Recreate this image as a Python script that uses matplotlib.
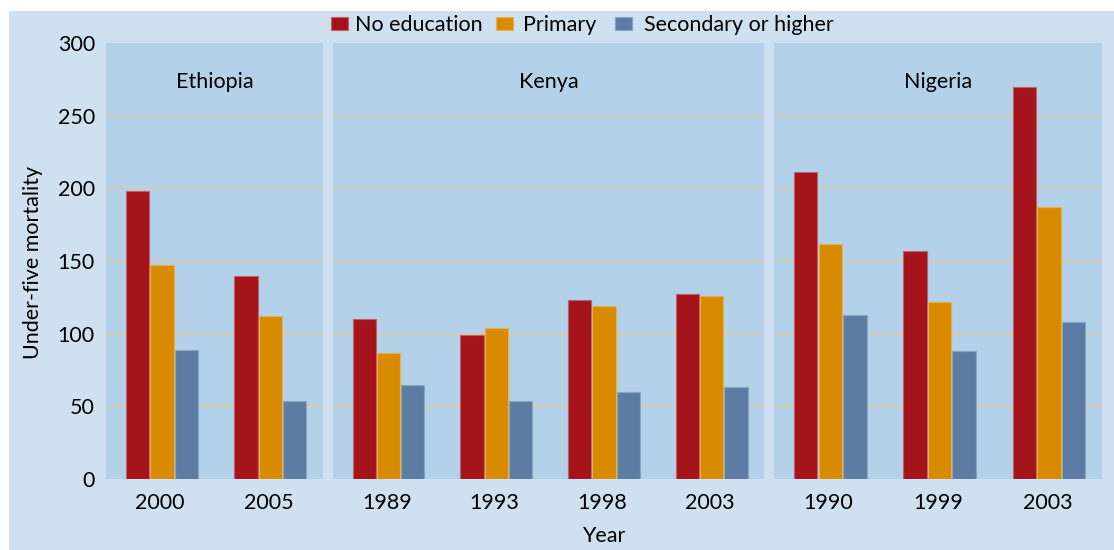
import numpy as np
import matplotlib
matplotlib.use("Agg")
import matplotlib.pyplot as plt
from matplotlib.patches import Rectangle

plt.rcParams['font.family'] = ['Lato', 'DejaVu Sans']

countries = ["Ethiopia", "Kenya", "Nigeria"]
years = [["2000", "2005"],
         ["1989", "1993", "1998", "2003"],
         ["1990", "1999", "2003"]]
no_education = [[198, 140], [110, 99, 123, 127], [211, 157, 270]]
primary = [[147, 112], [87, 104, 119, 126], [162, 122, 187]]
secondary = [[89, 54], [65, 54, 60, 63], [113, 88, 108]]
series_names = ["No education", "Primary", "Secondary or higher"]

colors = ["#a6141b", "#d98b00", "#5d7ca3"]
edges = ["#c0606a", "#e8b050", "#8aa4c4"]
panel_bg = "#b3d1e8"
outer_bg = "#cfe1f0"
grid_c = "#d8cca8"
fs = 15.5

W, H = 1114, 550
fig = plt.figure(figsize=(W / 100, H / 100), dpi=100)
fig.patch.set_facecolor("white")
fig.patches.append(Rectangle((9 / W, 0), 1 - 9 / W, 1 - 11 / H, transform=fig.transFigure,
                             facecolor=outer_bg, edgecolor="none", zorder=-10))

# panel pixel extents
panel_x = [(106, 323), (333, 764), (774, 1102)]
y_top, y_bot = 43, 479
bw = 0.225

axes = []
for k, c in enumerate(countries):
    x0, x1 = panel_x[k]
    ax = fig.add_axes([x0 / W, 1 - y_bot / H, (x1 - x0) / W, (y_bot - y_top) / H])
    ax.set_facecolor(panel_bg)
    n = len(years[k])
    x = np.arange(n)
    for j, vals in enumerate([no_education[k], primary[k], secondary[k]]):
        ax.bar(x + (j - 1) * bw + 0.015, vals, width=bw - 0.01, color=colors[j],
               edgecolor=edges[j], linewidth=0.8, zorder=3,
               label=series_names[j] if k == 0 else None)
    ax.set_xlim(-0.5, n - 0.5)
    ax.set_ylim(0, 300)
    ax.set_yticks(range(0, 301, 50))
    for g in range(50, 300, 50):
        ax.axhline(g, color=grid_c, linewidth=1.2, zorder=1)
    ax.set_xticks(x)
    ax.set_xticklabels(years[k], fontsize=fs)
    ax.tick_params(length=0, pad=10)
    if k == 0:
        ax.set_yticklabels([str(v) for v in range(0, 301, 50)], fontsize=fs)
        ax.tick_params(axis="y", pad=8)
    else:
        ax.set_yticklabels([])
    for s in ax.spines.values():
        s.set_visible(False)
    ax.text(0.5, 0.91, c, transform=ax.transAxes, ha="center", va="center", fontsize=fs)
    axes.append(ax)

fig.text(33 / W, 1 - 262 / H, "Under-five mortality", rotation=90, ha="center", va="center",
         fontsize=fs)
fig.text(604 / W, 1 - 536 / H, "Year", ha="center", va="center", fontsize=fs)

# legend items placed one by one (uneven spacing in the original)
handles, labels = axes[0].get_legend_handles_labels()
leg_x = [331, 496, 615]
leg_pad = [0.3, 0.45, 0.55]
for h, l, lx, p in zip(handles, labels, leg_x, leg_pad):
    fig.legend([h], [l], loc="center left", bbox_to_anchor=(lx / W, 1 - 25 / H),
               frameon=False, fontsize=fs, handlelength=0.8, handleheight=0.6,
               handletextpad=p, borderpad=0, borderaxespad=0)

fig.savefig("out.png", dpi=100)
